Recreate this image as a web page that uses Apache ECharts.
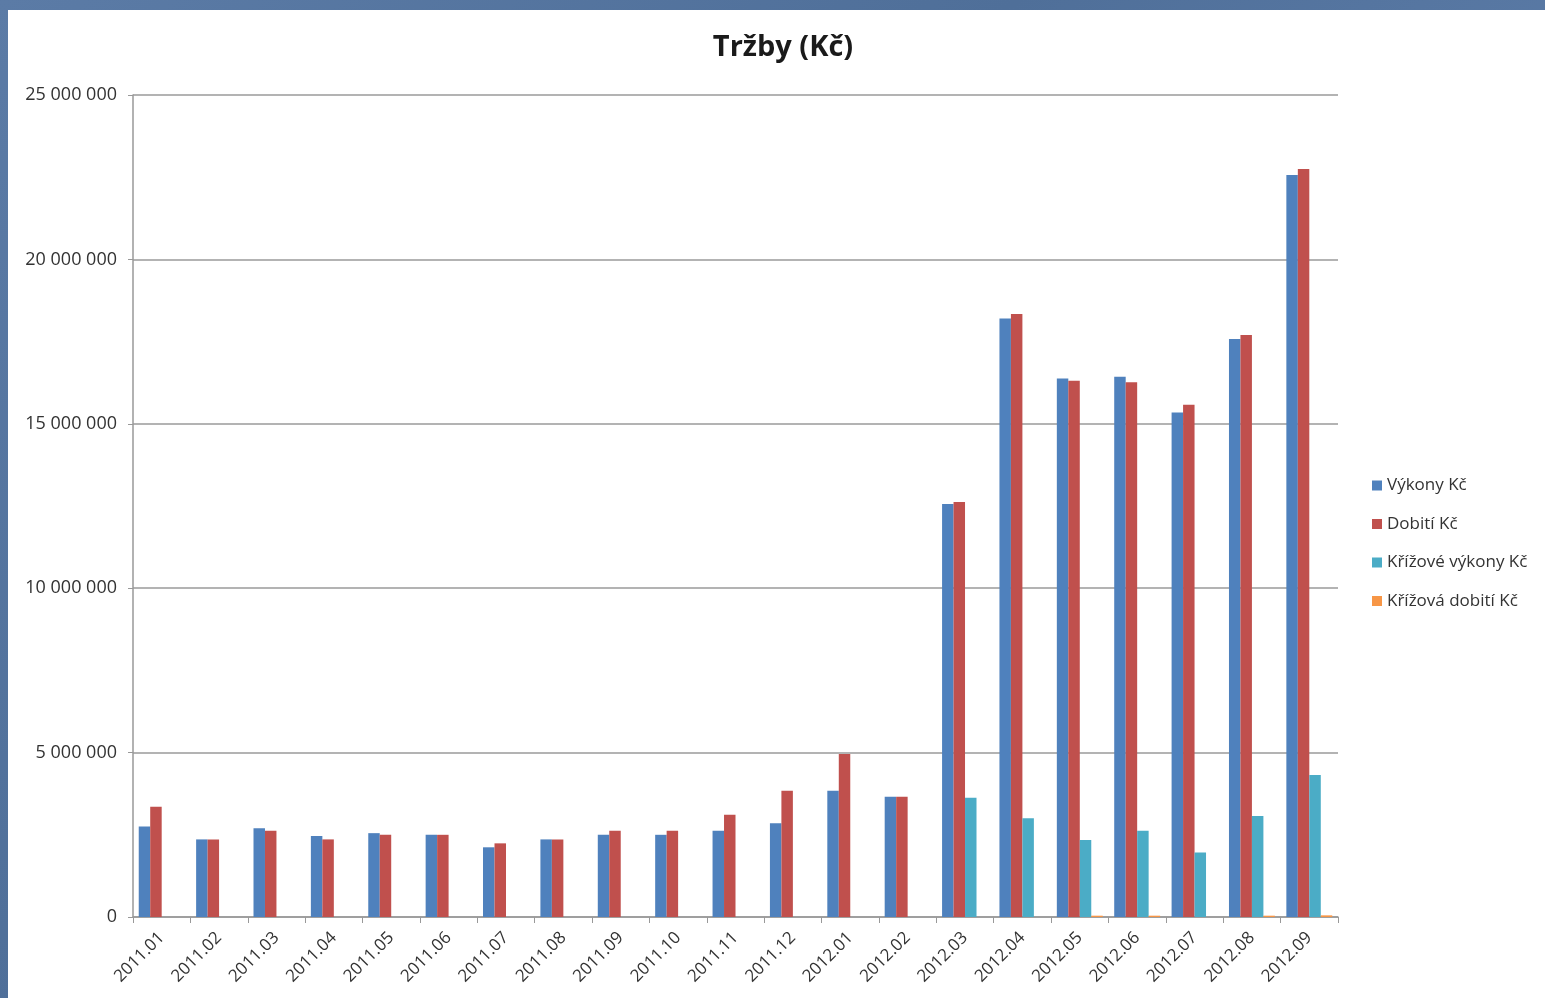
<!DOCTYPE html>
<html><head><meta charset="utf-8">
<script src="https://cdn.jsdelivr.net/npm/echarts@6/dist/echarts.min.js"></script>
<style>
html,body{margin:0;padding:0;width:1545px;height:998px;overflow:hidden;background:#56779f;}
#bg{position:absolute;left:0;top:0;width:1545px;height:998px;background:linear-gradient(135deg,#5b7ba6 0%,#4f6f99 40%,#5c7ca8 70%,#506f98 100%);}
#chart{position:absolute;left:8px;top:10px;width:1537px;height:988px;background:#fff;}
</style></head>
<body><div id="bg"></div><div id="chart"></div>
<script>
const categories = ["2011.01","2011.02","2011.03","2011.04","2011.05","2011.06","2011.07","2011.08","2011.09","2011.10","2011.11","2011.12","2012.01","2012.02","2012.03","2012.04","2012.05","2012.06","2012.07","2012.08","2012.09"];
const vykony = [2750000,2360000,2700000,2460000,2550000,2500000,2120000,2360000,2500000,2500000,2620000,2850000,3840000,3660000,12560000,18200000,16380000,16430000,15340000,17580000,22570000];
const dobiti = [3350000,2360000,2620000,2360000,2500000,2500000,2240000,2360000,2620000,2620000,3110000,3840000,4960000,3660000,12620000,18340000,16310000,16260000,15580000,17700000,22750000];
const krizoveVykony = [0,0,0,0,0,0,0,0,0,0,0,0,0,0,3630000,3000000,2340000,2620000,1960000,3070000,4320000];
const krizovaDobiti = [0,0,0,0,0,0,0,0,0,0,0,0,0,0,0,0,40000,40000,0,40000,50000];
const seriesNames = ["Výkony Kč","Dobití Kč","Křížové výkony Kč","Křížová dobití Kč"];
const colors = ["#4F81BD","#C0504D","#4BACC6","#F79646"];
const yTicks = [0,5000000,10000000,15000000,20000000,25000000];

const fmt = v => String(v).replace(/\B(?=(\d{3})+(?!\d))/g, " ");
const font = "'Open Sans', 'Noto Sans', sans-serif";
const chart = echarts.init(document.getElementById('chart'));
const data = [vykony, dobiti, krizoveVykony, krizovaDobiti];
chart.setOption({
  animation:false,
  color: colors,
  title:{text:"Tržby (Kč)", left:770, top:18, textAlign:'center',
    textStyle:{fontFamily:font, fontSize:29, fontWeight:'bold', color:'#1a1a1a'}},
  legend:{orient:'vertical', left:1359, top:462, itemWidth:10, itemHeight:10, itemGap:21.5,
    icon:'rect', textStyle:{fontFamily:font, fontSize:17, color:'#333'}, itemStyle:{borderWidth:0},
    data: seriesNames},
  grid:{left:125, right:207, top:85, bottom:81, containLabel:false},
  xAxis:{type:'category', data:categories,
    axisLine:{lineStyle:{color:'#999', width:1.5}},
    axisTick:{show:true, interval:0, length:6, lineStyle:{color:'#999'}},
    axisLabel:{interval:0, rotate:45, fontFamily:font, fontSize:17, color:'#333', margin:18}},
  yAxis:{type:'value', min:yTicks[0], max:yTicks[yTicks.length-1], interval:5000000,
    axisLine:{show:true, lineStyle:{color:'#999', width:1.5}},
    axisTick:{show:true, length:5, lineStyle:{color:'#999'}},
    splitLine:{lineStyle:{color:'#b3b3b3', width:2}},
    axisLabel:{fontFamily:font, fontSize:18, color:'#333', margin:16, formatter:fmt}},
  series: seriesNames.map((n,i)=>({name:n, type:'bar', data:data[i], barGap:'0%', barCategoryGap:'20%',
    itemStyle:{color:colors[i]}}))
});
</script></body></html>
